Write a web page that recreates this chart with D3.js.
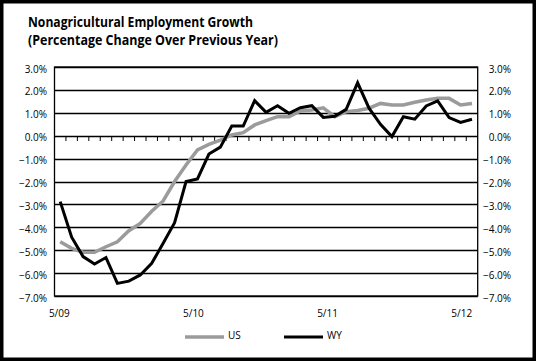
<!DOCTYPE html>
<html>
<head>
<meta charset="utf-8">
<script src="https://cdn.jsdelivr.net/npm/d3@7"></script>
<style>
  body { margin: 0; background: #fff; }
  svg { display: block; font-family: "Open Sans", sans-serif; }
</style>
</head>
<body>
<div id="chart"></div>
<script>
// Monthly data, 5/09 to 5/12 (percent change over previous year)
const months = d3.range(37);
const xLabels = ["5/09", "5/10", "5/11", "5/12"];
const yTicks = [3, 2, 1, 0, -1, -2, -3, -4, -5, -6, -7];
const usValues = [-4.63, -4.92, -5.09, -5.09, -4.85, -4.63, -4.15, -3.83, -3.3, -2.85, -2.0, -1.28,
    -0.62, -0.38, -0.19, 0.03, 0.13, 0.47, 0.66, 0.83, 0.83, 1.08, 1.12, 1.22,
    0.83, 1.05, 1.1, 1.2, 1.41, 1.34, 1.34, 1.46, 1.56, 1.63, 1.63, 1.34, 1.41];
const wyValues = [-2.88, -4.43, -5.28, -5.6, -5.32, -6.45, -6.35, -6.08, -5.57, -4.7, -3.8, -2.0,
    -1.89, -0.8, -0.5, 0.42, 0.42, 1.53, 1.02, 1.31, 0.98, 1.22, 1.31, 0.8,
    0.85, 1.15, 2.31, 1.2, 0.5, -0.04, 0.83, 0.72, 1.3, 1.52, 0.79, 0.58, 0.72];
const seriesNames = ["US", "WY"];
const seriesColors = ["#9b9b9b", "#000000"];

const width = 536, height = 361;
const plot = { left: 54.5, right: 477.7, top: 67, bottom: 296 };

const svg = d3.select("#chart")
    .append("svg")
    .attr("width", width)
    .attr("height", height);

// outer frame
svg.append("rect")
    .attr("x", 0).attr("y", 0)
    .attr("width", width).attr("height", height)
    .attr("fill", "#fff")
    .attr("stroke", "#000")
    .attr("stroke-width", 7);

// title
const title = svg.append("text")
    .attr("font-weight", "bold")
    .attr("font-size", "13.5px")
    .attr("fill", "#000");
title.append("tspan").attr("x", 28).attr("y", 27)
    .attr("textLength", 225).attr("lengthAdjust", "spacingAndGlyphs")
    .text("Nonagricultural Employment Growth");
title.append("tspan").attr("x", 28).attr("y", 44.5)
    .attr("textLength", 250).attr("lengthAdjust", "spacingAndGlyphs")
    .text("(Percentage Change Over Previous Year)");

const x = d3.scaleBand()
    .domain(months)
    .range([plot.left, plot.right]);

const y = d3.scaleLinear()
    .domain([-7, 3])
    .range([plot.bottom, plot.top]);

// labels sit slightly inside the band centres in the original
const xLabelScale = d3.scalePoint()
    .domain(xLabels)
    .range([59.3, 461.7]);

// gridlines
svg.append("g")
    .selectAll("line")
    .data(yTicks)
    .join("line")
    .attr("x1", plot.left).attr("x2", plot.right)
    .attr("y1", (d) => Math.round(y(d)) + 0.5)
    .attr("y2", (d) => Math.round(y(d)) + 0.5)
    .attr("stroke", "#000")
    .attr("stroke-width", 1.3);

// plot border
svg.append("rect")
    .attr("x", plot.left).attr("y", plot.top)
    .attr("width", plot.right - plot.left)
    .attr("height", plot.bottom - plot.top)
    .attr("fill", "none")
    .attr("stroke", "#000")
    .attr("stroke-width", 1.3);

// category ticks on the zero line
svg.append("g")
    .selectAll("line")
    .data(months.slice(1))
    .join("line")
    .attr("x1", (d) => x(d)).attr("x2", (d) => x(d))
    .attr("y1", Math.round(y(0)) + 0.5)
    .attr("y2", Math.round(y(0)) + 5)
    .attr("stroke", "#000")
    .attr("stroke-width", 1);

// y labels, left and right
const fmt = d3.format(".1f");
svg.append("g")
    .selectAll("text")
    .data(yTicks)
    .join("text")
    .attr("x", 47)
    .attr("y", (d) => y(d) + 2)
    .attr("dy", "0.35em")
    .attr("text-anchor", "end")
    .attr("font-size", "10px")
    .text((d) => fmt(d) + "%");

svg.append("g")
    .selectAll("text")
    .data(yTicks)
    .join("text")
    .attr("x", 511)
    .attr("y", (d) => y(d) + 2)
    .attr("dy", "0.35em")
    .attr("text-anchor", "end")
    .attr("font-size", "10px")
    .text((d) => fmt(d) + "%");

// x labels
svg.append("g")
    .selectAll("text")
    .data(xLabels)
    .join("text")
    .attr("x", (d) => xLabelScale(d))
    .attr("y", 317)
    .attr("text-anchor", "middle")
    .attr("font-size", "10px")
    .text((d) => d);

// series lines
const line = d3.line()
    .x((d, i) => x(i) + x.bandwidth() / 2)
    .y((d) => y(d));

[usValues, wyValues].forEach((vals, k) => {
    svg.append("path")
        .datum(vals)
        .attr("d", line)
        .attr("fill", "none")
        .attr("stroke", seriesColors[k])
        .attr("stroke-width", k === 0 ? 3.5 : 3)
        .attr("stroke-linejoin", "miter");
});

// legend
const legendX = [185, 284];
const legend = svg.append("g")
    .selectAll("g")
    .data(seriesNames)
    .join("g")
    .attr("transform", (d, i) => `translate(${legendX[i]}, 337)`);

legend.append("line")
    .attr("x1", 0).attr("x2", 39)
    .attr("stroke", (d, i) => seriesColors[i])
    .attr("stroke-width", (d, i) => i === 0 ? 3.5 : 3);

legend.append("text")
    .attr("x", 43)
    .attr("y", -2)
    .attr("dy", "0.35em")
    .attr("font-size", "10px")
    .text((d) => d);
</script>
</body>
</html>
